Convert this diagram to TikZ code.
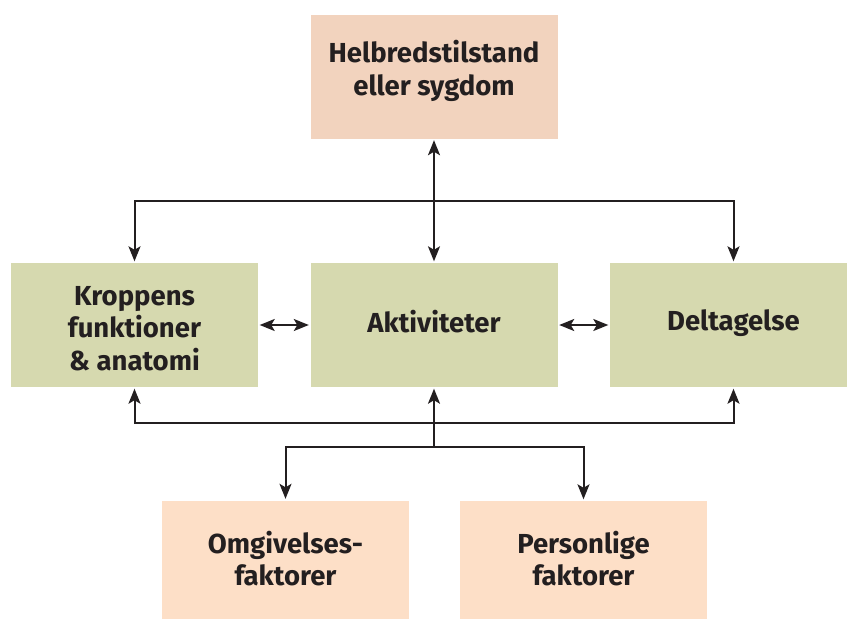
\documentclass[tikz,border=0pt]{standalone}
\usepackage{fontspec}
\setmainfont{Fira Sans}
\usetikzlibrary{arrows.meta}
\definecolor{healthfill}{RGB}{242,211,190}
\definecolor{midfill}{RGB}{214,217,175}
\definecolor{ctxfill}{RGB}{253,223,199}
\definecolor{ink}{RGB}{35,31,32}
\tikzset{
  tip/.tip={Stealth[length=15pt,width=12pt,inset=3.5pt]},
  box/.style={rectangle, minimum width=247pt, minimum height=124pt, inner sep=0pt,
    align=center, text=ink, font=\bfseries\fontsize{27.5}{32.5}\selectfont},
  % text height/depth place the last baseline inside the box
  textpos/.style 2 args={text height=#1, text depth=#2},
  link/.style={draw=ink, line width=2pt},
  arr/.style={link, -tip, shorten >=1.5pt},
  darr/.style={link, tip-tip, shorten >=1.5pt, shorten <=1.5pt}
}
\begin{document}
\begin{tikzpicture}[x=1pt,y=-1pt]
  \useasboundingbox (0,0) rectangle (847,619);
  \clip (0,0) rectangle (847,619);

  % boxes
  \node[box, fill=healthfill, textpos={67pt}{30pt}] (health) at (434,76.5) {Helbredstilstand\\eller sygdom};
  \node[box, fill=midfill, textpos={100pt}{10pt}] (body) at (134.5,325) {Kroppens\\funktioner\\\& anatomi};
  \node[box, fill=midfill, textpos={37pt}{23pt}] (act) at (434,325) {Aktiviteter};
  \node[box, fill=midfill, textpos={35pt}{25pt}] (part) at (733.5,325) {Deltagelse};
  \node[box, fill=ctxfill, textpos={61pt}{15pt}] (env) at (285.5,562.5) {Omgivelses-\\faktorer};
  \node[box, fill=ctxfill, textpos={61pt}{16pt}] (pers) at (583.5,563) {Personlige\\faktorer};

  % junction points
  \coordinate (upper) at (434,201);
  \coordinate (lower) at (434,423);
  \coordinate (ctx) at (434,447);

  % upper connections
  \draw[darr] (health.south) -- (act.north);
  \draw[arr] (upper) -| (body.north);
  \draw[arr] (upper) -| (part.north);

  % side connections
  \draw[darr] (body.east) -- (act.west);
  \draw[darr] (act.east) -- (part.west);

  % lower connections
  \draw[arr] (ctx) -- (act.south);
  \draw[arr] (lower) -| (body.south);
  \draw[arr] (lower) -| (part.south);
  \draw[arr] (ctx) -| (env.north);
  \draw[arr] (ctx) -| (pers.north);
\end{tikzpicture}
\end{document}
